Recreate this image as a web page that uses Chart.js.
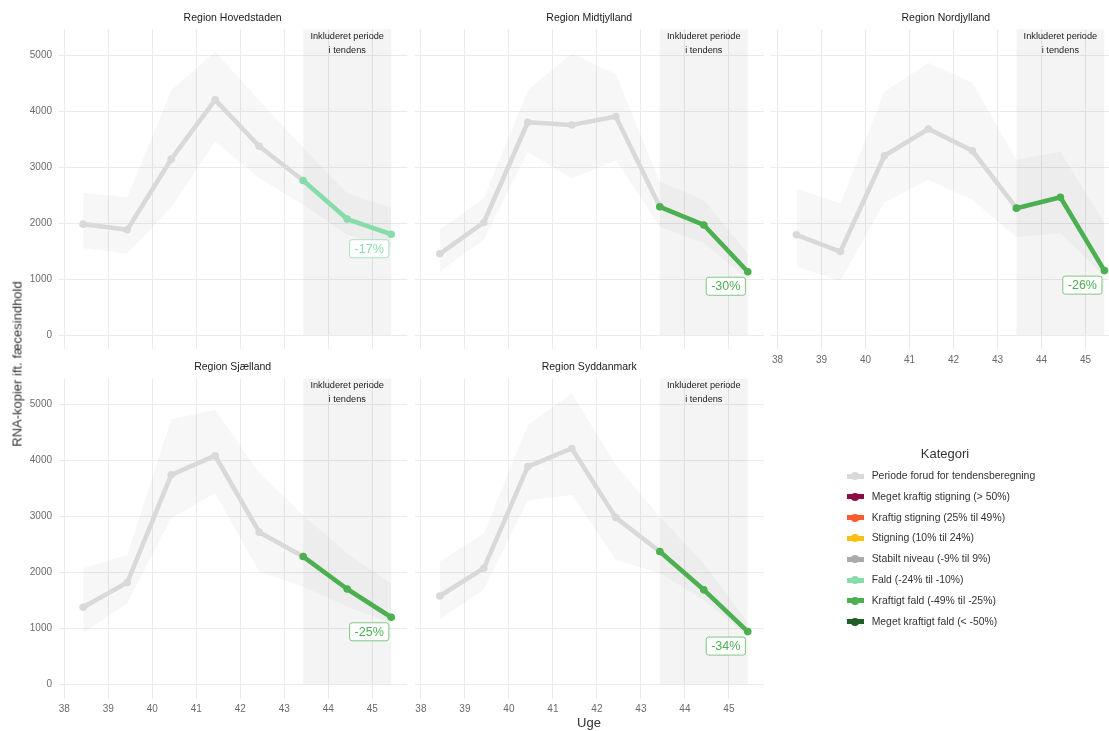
<!DOCTYPE html>
<html>
<head>
<meta charset="utf-8">
<script src="https://cdn.jsdelivr.net/npm/chart.js@4.4.1/dist/chart.umd.min.js"></script>
<style>
  html, body { margin: 0; padding: 0; background: #fff; overflow: hidden; }
  #wrap { position: relative; width: 1109px; height: 731px; overflow: hidden;
          font-family: "Liberation Sans", Arial, sans-serif; background: #fff; }
  #wrap canvas { position: absolute; left: 0; top: 0; }
  .axis-title { position: absolute; color: #333; font-size: 13px; white-space: nowrap; }
  #legend-title { position: absolute; color: #333; font-size: 13px; transform: translate(-50%, -50%); }
  .legend-line { position: absolute; width: 17px; height: 5px; }
  .legend-dot { position: absolute; width: 8px; height: 8px; border-radius: 50%; }
  .legend-text { position: absolute; color: #333; font-size: 10.4px; line-height: 12px; white-space: nowrap; }
</style>
</head>
<body>
<div id="wrap"></div>
<script>
// ---- data ----
const weeks = [38.43, 39.43, 40.43, 41.43, 42.43, 43.43, 44.43, 45.43];
const weekTicks = [38, 39, 40, 41, 42, 43, 44, 45];
const valueTicks = [0, 1000, 2000, 3000, 4000, 5000];

const regions = ['Region Hovedstaden', 'Region Midtjylland', 'Region Nordjylland', 'Region Sjælland', 'Region Syddanmark'];

const hovedstaden      = [1980, 1880, 3140, 4200, 3370, 2760, 2070, 1800];
const hovedstadenUpper = [2540, 2460, 4370, 5060, 4190, 3350, 2530, 2270];
const hovedstadenLower = [1550, 1450, 2280, 3450, 2800, 2320, 1790, 1560];

const midtjylland      = [1450, 2010, 3800, 3750, 3900, 2290, 1965, 1130];
const midtjyllandUpper = [1890, 2440, 4370, 5030, 4660, 2740, 2410, 1460];
const midtjyllandLower = [1130, 1700, 3270, 2790, 3120, 1930, 1640, 1000];

const nordjylland      = [1790, 1490, 3200, 3680, 3290, 2265, 2460, 1150];
const nordjyllandUpper = [2620, 2350, 4345, 4860, 4505, 3130, 3275, 2000];
const nordjyllandLower = [1220, 965, 2370, 2770, 2410, 1745, 1815, 1040];

const sjaelland      = [1375, 1815, 3740, 4080, 2715, 2280, 1700, 1195];
const sjaellandUpper = [2070, 2310, 4730, 4900, 3770, 3020, 2340, 1800];
const sjaellandLower = [910, 1445, 2965, 3410, 2010, 1745, 1385, 1090];

const syddanmark      = [1575, 2070, 3885, 4210, 2975, 2370, 1685, 940];
const syddanmarkUpper = [2190, 2695, 4630, 5195, 3915, 2995, 2160, 1100];
const syddanmarkLower = [1160, 1685, 3280, 3380, 2220, 1980, 1505, 845];

const trendLabels = ['-17%', '-30%', '-26%', '-25%', '-34%'];
const trendCategory = [5, 6, 6, 6, 6];

const categories = [
  'Periode forud for tendensberegning',
  'Meget kraftig stigning (> 50%)',
  'Kraftig stigning (25% til 49%)',
  'Stigning (10% til 24%)',
  'Stabilt niveau (-9% til 9%)',
  'Fald (-24% til -10%)',
  'Kraftigt fald (-49% til -25%)',
  'Meget kraftigt fald (< -50%)'
];
const categoryColors = ['#d9d9d9', '#8b0d45', '#ff5a2e', '#ffbf10', '#ababab', '#88dcaa', '#4caf50', '#1d5e27'];

const regionValues = [hovedstaden, midtjylland, nordjylland, sjaelland, syddanmark];
const regionUpper = [hovedstadenUpper, midtjyllandUpper, nordjyllandUpper, sjaellandUpper, syddanmarkUpper];
const regionLower = [hovedstadenLower, midtjyllandLower, nordjyllandLower, sjaellandLower, syddanmarkLower];

// ---- layout ----
const CANVAS_W = 1130, CANVAS_H = 731;
const PANEL_W = 349.3, PANEL_H = 320;
const COL_X = [58, 414.6, 771.2];
const ROW_Y = [29.3, 378.5];
const X_MIN = 37.857, X_MAX = 45.796, Y_MIN = -255, Y_MAX = 5459;
const Y_AXIS_W = 40, X_AXIS_H = 20;
const TREND_START = 5; // first week included in the trend

const FONT = '"Liberation Sans", Arial, sans-serif';
Chart.defaults.font.family = FONT;

const wrap = document.getElementById('wrap');

// shaded trend window, strip titles, annotation and trend label
const panelDecor = {
  id: 'panelDecor',
  beforeDatasetsDraw(chart, args, opts) {
    const { ctx, chartArea, scales: { x, y } } = chart;
    const x0 = x.getPixelForValue(weeks[TREND_START]);
    const x1 = x.getPixelForValue(weeks[weeks.length - 1]);
    const yb = y.getPixelForValue(0);
    ctx.save();
    ctx.fillStyle = 'rgba(0,0,0,0.042)';
    ctx.fillRect(x0, chartArea.top, x1 - x0, yb - chartArea.top);
    ctx.restore();
  },
  afterDatasetsDraw(chart, args, opts) {
    const { ctx, chartArea, scales: { x, y } } = chart;
    const x0 = x.getPixelForValue(weeks[TREND_START]);
    const x1 = x.getPixelForValue(weeks[weeks.length - 1]);
    ctx.save();
    // annotation in the trend window
    ctx.fillStyle = '#1a1a1a';
    ctx.font = '9.2px ' + FONT;
    ctx.textAlign = 'center';
    ctx.textBaseline = 'middle';
    const cx = (x0 + x1) / 2;
    ctx.fillText('Inkluderet periode', cx, chartArea.top + 7.4);
    ctx.fillText('i tendens', cx, chartArea.top + 21.4);

    // trend label box below the last point
    const last = opts.values[opts.values.length - 1];
    const lx = x.getPixelForValue(weeks[weeks.length - 1] - 0.5);
    const ly = y.getPixelForValue(last) + 5.5;
    ctx.font = '12.5px ' + FONT;
    const tw = ctx.measureText(opts.label).width;
    const bw = tw + 10, bh = 18;
    ctx.beginPath();
    if (ctx.roundRect) ctx.roundRect(lx - bw / 2, ly, bw, bh, 2.5);
    else ctx.rect(lx - bw / 2, ly, bw, bh);
    ctx.fillStyle = '#ffffff';
    ctx.fill();
    ctx.globalAlpha = 0.7;
    ctx.lineWidth = 1;
    ctx.strokeStyle = opts.color;
    ctx.stroke();
    ctx.globalAlpha = 1;
    ctx.fillStyle = opts.color;
    ctx.fillText(opts.label, lx, ly + bh / 2 + 0.5);
    ctx.restore();
  },
  afterDraw(chart, args, opts) {
    const { ctx, chartArea } = chart;
    ctx.save();
    ctx.fillStyle = '#1a1a1a';
    ctx.font = '10.5px ' + FONT;
    ctx.textAlign = 'center';
    ctx.textBaseline = 'middle';
    ctx.fillText(opts.title, (chartArea.left + chartArea.right) / 2, chartArea.top - 11.3);
    ctx.restore();
  }
};

function pts(arr, from, to) {
  const out = [];
  for (let i = from; i <= to; i++) out.push({ x: weeks[i], y: arr[i] });
  return out;
}

regions.forEach((name, i) => {
  const row = i < 3 ? 0 : 1;
  const col = i < 3 ? i : i - 3;
  const showY = col === 0;
  const showX = row === 1 || i === 2;
  const left = COL_X[col], top = ROW_Y[row];
  const yW = showY ? Y_AXIS_W : 0;
  const xH = showX ? X_AXIS_H : 0;

  const canvas = document.createElement('canvas');
  canvas.width = CANVAS_W; canvas.height = CANVAS_H;
  canvas.style.width = CANVAS_W + 'px'; canvas.style.height = CANVAS_H + 'px';
  wrap.appendChild(canvas);

  const vals = regionValues[i];
  const color = categoryColors[trendCategory[i]];
  const grey = categoryColors[0];

  new Chart(canvas, {
    type: 'line',
    data: {
      datasets: [
        { data: pts(regionLower[i], 0, weeks.length - 1), borderWidth: 0, pointRadius: 0, fill: false, order: 3 },
        { data: pts(regionUpper[i], 0, weeks.length - 1), borderWidth: 0, pointRadius: 0, fill: '-1',
          backgroundColor: 'rgba(0,0,0,0.03)', order: 2 },
        { data: pts(vals, 0, TREND_START), borderColor: grey, borderWidth: 4.6, borderJoinStyle: 'round',
          borderCapStyle: 'round', pointRadius: 3.8, pointBorderWidth: 0, pointBackgroundColor: grey, fill: false, order: 1 },
        { data: pts(vals, TREND_START, weeks.length - 1), borderColor: color, borderWidth: 4.6, borderJoinStyle: 'round',
          borderCapStyle: 'butt', pointRadius: 3.8, pointBorderWidth: 0, pointBackgroundColor: color, fill: false, order: 0 }
      ]
    },
    options: {
      responsive: false,
      animation: false,
      events: [],
      devicePixelRatio: 1,
      layout: {
        padding: {
          left: left - yW,
          top: top,
          right: CANVAS_W - (left + PANEL_W),
          bottom: CANVAS_H - (top + PANEL_H) - xH
        }
      },
      plugins: {
        legend: { display: false },
        tooltip: { enabled: false },
        panelDecor: { title: name, label: trendLabels[i], color: color, values: vals }
      },
      scales: {
        x: {
          type: 'linear', min: X_MIN, max: X_MAX,
          afterBuildTicks: s => { s.ticks = weekTicks.map(v => ({ value: v })); },
          afterFit: s => { s.height = xH; },
          grid: { color: '#ebebeb', lineWidth: 1, drawTicks: false },
          border: { display: false },
          ticks: { display: showX, color: '#6a6a6a', font: { size: 10 }, padding: 4.5, maxRotation: 0, autoSkip: false,
                   callback: v => String(v) }
        },
        y: {
          type: 'linear', min: Y_MIN, max: Y_MAX,
          afterBuildTicks: s => { s.ticks = valueTicks.map(v => ({ value: v })); },
          afterFit: s => { s.width = yW; },
          grid: { color: '#ebebeb', lineWidth: 1, drawTicks: false },
          border: { display: false },
          ticks: { display: showY, color: '#6a6a6a', font: { size: 10 }, padding: 6, callback: v => String(v) }
        }
      }
    },
    plugins: [panelDecor]
  });
});

// ---- axis titles ----
const yTitle = document.createElement('div');
yTitle.className = 'axis-title';
yTitle.textContent = 'RNA-kopier ift. fæcesindhold';
yTitle.style.left = '17px'; yTitle.style.top = '364px';
yTitle.style.transform = 'translate(-50%, -50%) rotate(-90deg)';
wrap.appendChild(yTitle);

const xTitle = document.createElement('div');
xTitle.className = 'axis-title';
xTitle.textContent = 'Uge';
xTitle.style.left = '589px'; xTitle.style.top = '722px';
xTitle.style.transform = 'translate(-50%, -50%)';
wrap.appendChild(xTitle);

// ---- legend ----
const lt = document.createElement('div');
lt.id = 'legend-title';
lt.textContent = 'Kategori';
lt.style.left = '945px'; lt.style.top = '453px';
wrap.appendChild(lt);

categories.forEach((label, k) => {
  const cy = 476 + 20.8 * k;
  const line = document.createElement('div');
  line.className = 'legend-line';
  line.style.left = '846.5px'; line.style.top = (cy - 2.5) + 'px';
  line.style.background = categoryColors[k];
  const dot = document.createElement('div');
  dot.className = 'legend-dot';
  dot.style.left = '851px'; dot.style.top = (cy - 4) + 'px';
  dot.style.background = categoryColors[k];
  const txt = document.createElement('div');
  txt.className = 'legend-text';
  txt.textContent = label;
  txt.style.left = '871.7px'; txt.style.top = (cy - 6) + 'px';
  wrap.appendChild(line); wrap.appendChild(dot); wrap.appendChild(txt);
});
</script>
</body>
</html>
